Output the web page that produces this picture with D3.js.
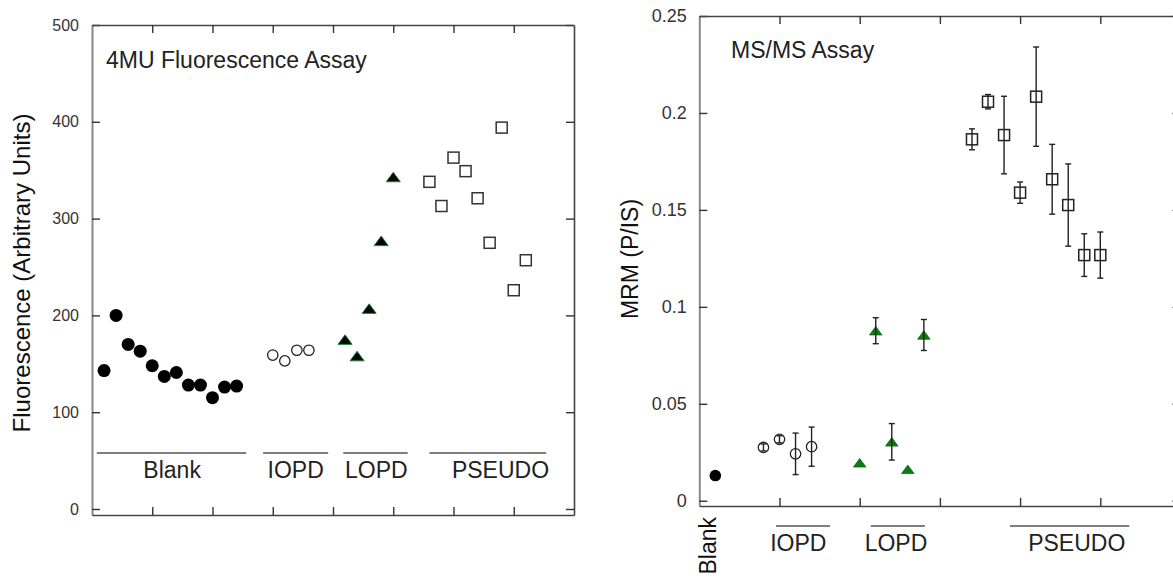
<!DOCTYPE html>
<html><head><meta charset="utf-8">
<script src="https://cdn.jsdelivr.net/npm/d3@7"></script>
<style>
body{margin:0;background:#fff}
text{font-family:"Liberation Sans",Arial,sans-serif}
</style>
</head><body>
<svg id="c" width="1173" height="578"></svg>
<script>
// ---------- Left panel: 4MU Fluorescence Assay ----------
const fluorBlankX = [1,2,3,4,5,6,7,8,9,10,11,12];
const fluorBlank  = [143,200,170,163,148,137,141,128,128,115,126,127];
const fluorIOPDX  = [15,16,17,18];
const fluorIOPD   = [159,153,164,164];
const fluorLOPDX  = [21,22,23,24,25];
const fluorLOPD   = [175,158,207,277,343];
const fluorPSEUDOX = [28,29,30,31,32,33,34,35,36];
const fluorPSEUDO  = [338,313,363,349,321,275,394,226,257];
const fluorYTicks  = [0,100,200,300,400,500];
const fluorYLabels = ["0","100","200","300","400","500"];
const fluorXTicks  = [5,10,15,20,25,30,35];
const fluorGroups     = ["Blank","IOPD","LOPD","PSEUDO"];
const fluorGroupFrom  = [0.4,14.2,20.85,28];
const fluorGroupTo    = [12.8,19.6,26.2,37.7];
const fluorGroupLabel = [6.65,16.9,23.6,33.9];

// ---------- Right panel: MS/MS Assay ----------
const mrmBlankX = [1];
const mrmBlank  = [0.013];
const mrmIOPDX  = [4,5,6,7];
const mrmIOPD   = [0.0275,0.0317,0.0242,0.0279];
const mrmIOPDErr = [0.0018,0.0018,0.0107,0.0101];
const mrmLOPDX  = [10,11,12,13,14];
const mrmLOPD   = [0.0196,0.0877,0.0304,0.0162,0.0855];
const mrmLOPDErr = [0,0.0067,0.0094,0,0.008];
const mrmPSEUDOX = [17,18,19,20,21,22,23,24,25];
const mrmPSEUDO  = [0.1864,0.2058,0.1886,0.1589,0.2084,0.1658,0.1525,0.1267,0.1267];
const mrmPSEUDOErr = [0.0054,0.0037,0.020,0.0055,0.0256,0.018,0.0212,0.011,0.0119];
const mrmYTicks  = [0,0.05,0.1,0.15,0.2,0.25];
const mrmYLabels = ["0","0.05","0.1","0.15","0.2","0.25"];
const mrmXTicks  = [5,10,15,20,25];
const mrmGroups     = ["IOPD","LOPD","PSEUDO"];
const mrmGroupFrom  = [4.78,10.69,19.37];
const mrmGroupTo    = [8.15,14.07,26.81];
const mrmGroupLabel = [6.17,12.26,23.53];

const svg = d3.select("#c");
const zip = (xs, ys, es) => xs.map((x,i)=>({x, y: ys[i], e: es ? es[i] : 0}));

function drawFrame(g, x, y, yTicks, yLabels, xTicks, pad, fs) {
  const [x0,x1] = x.range(), [y0,y1] = y.range();
  const la = g.append("g").attr("transform",`translate(${x0},0)`)
    .call(d3.axisLeft(y).tickValues(yTicks).tickFormat((d,i)=>yLabels[i]).tickSize(-8).tickSizeOuter(0).tickPadding(pad));
  la.selectAll("text").attr("font-size",fs).attr("fill","#333").attr("font-family",'"Liberation Sans",Arial,sans-serif');
  la.selectAll(".tick line").attr("stroke","#333").attr("stroke-width",1.4);
  la.select(".domain").attr("stroke","#888").attr("stroke-width",2);
  const ra = g.append("g").attr("transform",`translate(${x1},0)`)
    .call(d3.axisRight(y).tickValues(yTicks).tickFormat("").tickSize(-8).tickSizeOuter(0));
  const ta = g.append("g").attr("transform",`translate(0,${y1})`)
    .call(d3.axisTop(x).tickValues(xTicks).tickFormat("").tickSize(-8).tickSizeOuter(0));
  const ba = g.append("g").attr("transform",`translate(0,${y0})`)
    .call(d3.axisBottom(x).tickValues(xTicks).tickFormat("").tickSize(-8).tickSizeOuter(0));
  [ra,ta,ba].forEach(a=>{
    a.selectAll(".tick line").attr("stroke","#333").attr("stroke-width",1.4);
    a.select(".domain").attr("stroke","#444").attr("stroke-width",1.6);
  });
}

function errBars(g, data, x, y) {
  const eb = g.append("g").attr("stroke","#222").attr("stroke-width",1.4);
  data.filter(d=>d.e>0).forEach(d=>{
    const cx = x(d.x), ya = y(d.y + d.e), yb = y(d.y - d.e);
    eb.append("line").attr("x1",cx).attr("x2",cx).attr("y1",ya).attr("y2",yb);
    eb.append("line").attr("x1",cx-3).attr("x2",cx+3).attr("y1",ya).attr("y2",ya);
    eb.append("line").attr("x1",cx-3).attr("x2",cx+3).attr("y1",yb).attr("y2",yb);
  });
}

function tri(w,h){ return `M${-w/2},${h/2}L${w/2},${h/2}L0,${-h/2}Z`; }

// ===== Left panel =====
{
  const x = d3.scaleLinear([0,40],[92,574]);
  const y = d3.scaleLinear([-6.2,500],[515,25]);
  const g = svg.append("g");
  drawFrame(g, x, y, fluorYTicks, fluorYLabels, fluorXTicks, 13, 16);

  g.append("text").attr("x",106).attr("y",68).attr("font-size",23).attr("fill","#222").text("4MU Fluorescence Assay");
  g.append("text").attr("transform","translate(30,273) rotate(-90)").attr("text-anchor","middle")
    .attr("font-size",24).attr("fill","#111").text("Fluorescence (Arbitrary Units)");

  // group annotations
  fluorGroups.forEach((name,i)=>{
    g.append("line").attr("x1",x(fluorGroupFrom[i])).attr("x2",x(fluorGroupTo[i]))
      .attr("y1",453).attr("y2",453).attr("stroke","#555").attr("stroke-width",1.3);
    g.append("text").attr("x",x(fluorGroupLabel[i])).attr("y",478).attr("text-anchor","middle")
      .attr("font-size",23).attr("fill","#222").text(name);
  });

  g.append("g").selectAll("circle").data(zip(fluorBlankX,fluorBlank)).join("circle")
    .attr("cx",d=>x(d.x)).attr("cy",d=>y(d.y)).attr("r",6.5).attr("fill","#000");
  g.append("g").selectAll("circle").data(zip(fluorIOPDX,fluorIOPD)).join("circle")
    .attr("cx",d=>x(d.x)).attr("cy",d=>y(d.y)).attr("r",5.2).attr("fill","none").attr("stroke","#222").attr("stroke-width",1.3);
  g.append("g").selectAll("path").data(zip(fluorLOPDX,fluorLOPD)).join("path")
    .attr("transform",d=>`translate(${x(d.x)},${y(d.y)})`).attr("d",tri(14,9.5))
    .attr("fill","#050505").attr("stroke","#1d7a2a").attr("stroke-width",1);
  g.append("g").selectAll("rect").data(zip(fluorPSEUDOX,fluorPSEUDO)).join("rect")
    .attr("x",d=>x(d.x)-5.5).attr("y",d=>y(d.y)-5.5).attr("width",11).attr("height",11)
    .attr("fill","none").attr("stroke","#333").attr("stroke-width",1.5);
}

// ===== Right panel =====
{
  const x = d3.scaleLinear([0,30],[699.3,1180.5]);
  const y = d3.scaleLinear([-0.0027,0.25],[506,16]);
  const g = svg.append("g");
  drawFrame(g, x, y, mrmYTicks, mrmYLabels, mrmXTicks, 12.5, 18);

  g.append("text").attr("x",731).attr("y",58).attr("font-size",23).attr("fill","#222").text("MS/MS Assay");
  g.append("text").attr("transform","translate(638,259) rotate(-90)").attr("text-anchor","middle")
    .attr("font-size",23).attr("fill","#111").text("MRM (P/IS)");

  // Blank rotated label
  g.append("text").attr("transform",`translate(${x(mrmBlankX[0])+1},517) rotate(-90)`).attr("text-anchor","end")
    .attr("font-size",23).attr("fill","#111").text("Blank");

  mrmGroups.forEach((name,i)=>{
    g.append("line").attr("x1",x(mrmGroupFrom[i])).attr("x2",x(mrmGroupTo[i]))
      .attr("y1",526).attr("y2",526).attr("stroke","#555").attr("stroke-width",1.3);
    g.append("text").attr("x",x(mrmGroupLabel[i])).attr("y",551).attr("text-anchor","middle")
      .attr("font-size",23).attr("fill","#222").text(name);
  });

  const blank = zip(mrmBlankX,mrmBlank);
  const iopd = zip(mrmIOPDX,mrmIOPD,mrmIOPDErr);
  const lopd = zip(mrmLOPDX,mrmLOPD,mrmLOPDErr);
  const pseudo = zip(mrmPSEUDOX,mrmPSEUDO,mrmPSEUDOErr);

  g.append("g").selectAll("circle").data(blank).join("circle")
    .attr("cx",d=>x(d.x)).attr("cy",d=>y(d.y)).attr("r",5.8).attr("fill","#000");
  g.append("g").selectAll("circle").data(iopd).join("circle")
    .attr("cx",d=>x(d.x)).attr("cy",d=>y(d.y)).attr("r",5.2).attr("fill","none").attr("stroke","#222").attr("stroke-width",1.3);
  g.append("g").selectAll("path").data(lopd).join("path")
    .attr("transform",d=>`translate(${x(d.x)},${y(d.y)})`).attr("d",tri(12.5,8.5))
    .attr("fill","#0d7a14").attr("stroke","#0d6a12").attr("stroke-width",0.8);
  g.append("g").selectAll("rect").data(pseudo).join("rect")
    .attr("x",d=>x(d.x)-5.5).attr("y",d=>y(d.y)-5.5).attr("width",11).attr("height",11)
    .attr("fill","none").attr("stroke","#222").attr("stroke-width",1.5);

  errBars(g, iopd, x, y);
  errBars(g, lopd, x, y);
  errBars(g, pseudo, x, y);
}
</script>
</body></html>
